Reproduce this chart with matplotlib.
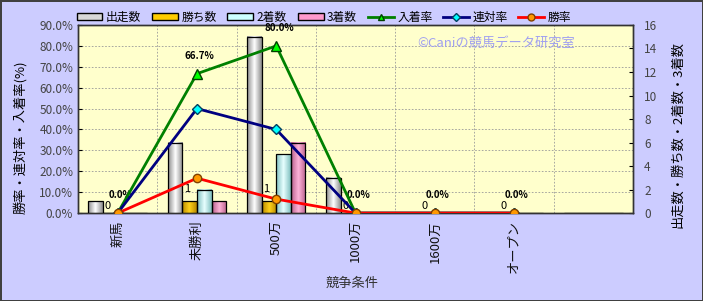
import numpy as np
import matplotlib
matplotlib.use('Agg')
import matplotlib.pyplot as plt
from matplotlib.colors import LinearSegmentedColormap
from matplotlib.lines import Line2D
from matplotlib.patches import Patch

plt.rcParams['font.family'] = ['Noto Sans CJK JP', 'DejaVu Sans']

# データ
categories = ['新馬', '未勝利', '500万', '1000万', '1600万', 'オープン', '']
starts = [1, 6, 15, 3, 0, 0, 0]      # 出走数
wins = [0, 1, 1, 0, 0, 0, 0]         # 勝ち数
seconds = [0, 2, 5, 0, 0, 0, 0]      # 2着数
thirds = [0, 1, 6, 0, 0, 0, 0]       # 3着数
place_rate = [0.0, 66.7, 80.0, 0.0, 0.0, 0.0]   # 入着率
quinella_rate = [0.0, 50.0, 40.0, 0.0, 0.0, 0.0]  # 連対率
win_rate = [0.0, 16.7, 6.7, 0.0, 0.0, 0.0]      # 勝率

bg = '#CCCCFF'
fig = plt.figure(figsize=(7.03, 3.01), dpi=100, facecolor=bg)
fig.patch.set_edgecolor('#404040')
fig.patch.set_linewidth(2)

ax = fig.add_axes([0.111, 0.292, 0.7895, 0.625])
ax.set_facecolor('#FFFFCC')
ax2 = ax.twinx()
ax3 = ax.twinx()

x = np.arange(len(categories))
w = 0.184

# 棒グラフ(右軸)
bar_series = [
    ('出走数', starts, ['#8C8C8C', '#FFFFFF', '#8C8C8C'], '#D8D8D8'),
    ('勝ち数', wins, ['#B88A00', '#FFD21A', '#B88A00'], '#FFCC00'),
    ('2着数', seconds, ['#7FBFBF', '#E8FFFF', '#7FBFBF'], '#CCFFFF'),
    ('3着数', thirds, ['#B8608C', '#FFB3D9', '#B8608C'], '#FF99CC'),
]
handles = []
for i, (name, vals, grad, flat) in enumerate(bar_series):
    bars = ax2.bar(x + (i - 1.5) * w, vals, w, color='none', edgecolor='black',
                   linewidth=0.9, zorder=3)
    cmap = LinearSegmentedColormap.from_list(name, grad)
    gimg = np.linspace(0, 1, 64).reshape(1, -1)
    for b in bars:
        if b.get_height() > 0:
            ax2.imshow(gimg, cmap=cmap, aspect='auto', zorder=2,
                       extent=[b.get_x(), b.get_x() + b.get_width(), 0, b.get_height()])
    handles.append(Patch(facecolor=flat, edgecolor='black', label=name))

# 勝ち数ラベル
for xi, v in zip(x[:6], wins[:6]):
    dy = 9 if v > 0 else 5
    ax2.annotate(str(v), (xi - 0.5 * w, v), xytext=(-2, dy), textcoords='offset points',
                 ha='center', va='center', fontsize=8, color='black')

ax2.set_xlim(-0.5, 6.5)
ax2.set_ylim(0, 16)
ax2.set_yticks(np.arange(0, 17, 2))

# 折れ線(左軸)
xl = x[:6]
ax3.plot(xl, place_rate, color='#008000', lw=2, marker='^', ms=7,
         mfc='#00FF00', mec='#004000', zorder=5)
ax3.plot(xl, quinella_rate, color='#000080', lw=2, marker='D', ms=5,
         mfc='#00FFFF', mec='#004060', zorder=5)
ax3.plot(xl, win_rate, color='#FF0000', lw=2, marker='o', ms=6,
         mfc='#FF9900', mec='#804000', zorder=5)
for xi, v in zip(xl, place_rate):
    ax3.annotate(f'{v:.1f}%', (xi, v), xytext=(2, 13), textcoords='offset points',
                 ha='center', va='center', fontsize=7, fontweight='bold', color='black')
ax3.set_ylim(0, 90)
ax3.set_xlim(-0.5, 6.5)
ax3.axis('off')

handles += [
    Line2D([], [], color='#008000', lw=2, marker='^', ms=5, mfc='#00FF00', mec='#004000', label='入着率'),
    Line2D([], [], color='#000080', lw=2, marker='D', ms=4, mfc='#00FFFF', mec='#004060', label='連対率'),
    Line2D([], [], color='#FF0000', lw=2, marker='o', ms=5, mfc='#FF9900', mec='#804000', label='勝率'),
]

# 左軸
ax.set_xlim(-0.5, 6.5)
ax.set_ylim(0, 90)
ax.set_yticks(np.arange(0, 91, 10))
ax.set_yticklabels([f'{t:.1f}%' for t in np.arange(0, 91, 10)])
ax.set_xticks(x)
ax.set_xticklabels(categories, rotation=90, va='top', ha='center')
ax.set_xticks(np.arange(0.5, 6, 1), minor=True)
ax.grid(True, which='major', axis='y', color='#999999', ls=(0, (2, 2)), lw=0.6)
ax.grid(True, which='minor', axis='x', color='#999999', ls=(0, (2, 2)), lw=0.6)
ax.tick_params(axis='x', which='both', length=0, pad=5, labelsize=9.5, labelcolor='#111111')
ax.tick_params(axis='y', direction='in', length=3, labelsize=8.5, labelcolor='#444444')
ax2.tick_params(axis='y', direction='in', length=3, labelsize=8.5, labelcolor='#444444', pad=8)
for a in (ax, ax2):
    for s in a.spines.values():
        s.set_color('#333333')
        s.set_linewidth(1)

fig.text(20 / 703, 1 - 137 / 301, '勝率・連対率・入着率(%)', rotation=90,
         ha='center', va='center', fontsize=9.5, color='black')
fig.text(678 / 703, 1 - 135 / 301, '出走数・勝ち数・2着数・3着数', rotation=90,
         ha='center', va='center', fontsize=9.5, color='black')
fig.text(352 / 703, 1 - 283 / 301, '競争条件', ha='center', va='center',
         fontsize=9.5, color='#333333')
fig.text(496 / 703, 1 - 43 / 301, '©Caniの競馬データ研究室', ha='center', va='center',
         fontsize=9.5, color='#A0A0F0')

fig.legend(handles=handles, loc='center', bbox_to_anchor=(324 / 703, 1 - 17 / 301),
           ncol=7, frameon=False, fontsize=8.5, handlelength=2.2, handletextpad=0.3,
           columnspacing=0.9, handleheight=0.6)

fig.savefig('out.png', dpi=100, facecolor=bg, edgecolor='#404040')
